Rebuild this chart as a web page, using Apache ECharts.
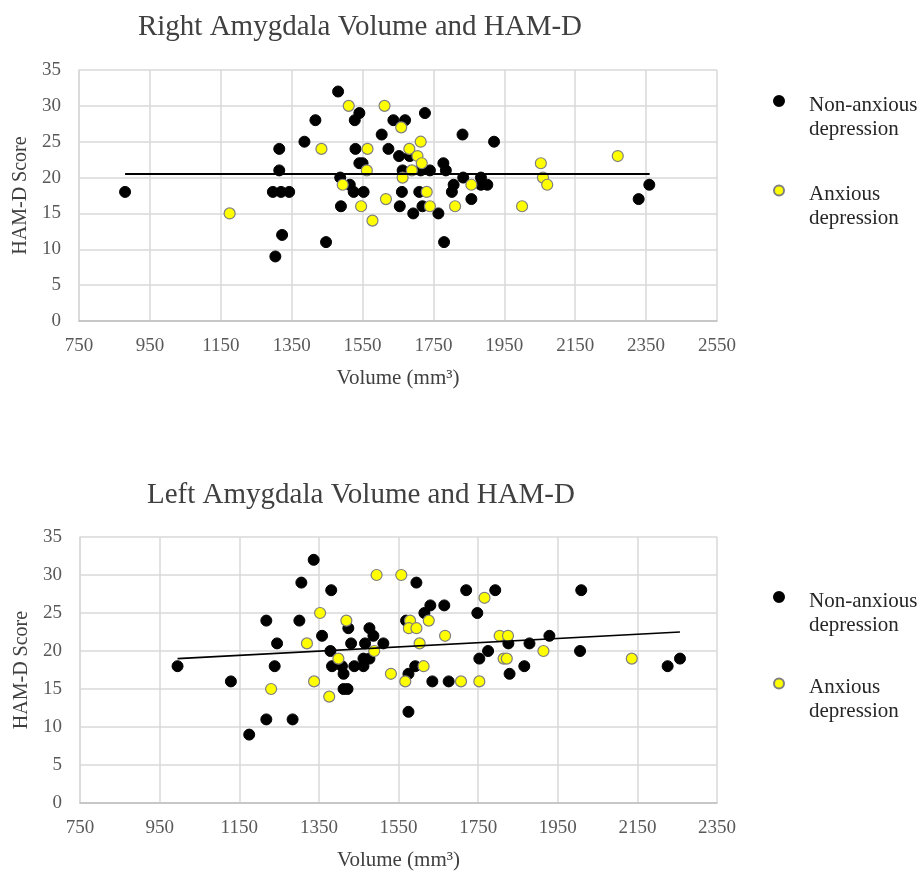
<!DOCTYPE html>
<html>
<head>
<meta charset="utf-8">
<title>Amygdala Volume and HAM-D</title>
<script src="https://cdn.jsdelivr.net/npm/echarts@6/dist/echarts.min.js"></script>
<style>
  html, body { margin: 0; padding: 0; background: #fff; }
  #container { width: 923px; height: 872px; }
</style>
</head>
<body>
<div id="container"></div>
<script>
// right amygdala: [volume mm3, HAM-D score]
var rightNonAnxious = [
  [880, 18], [1297, 18], [1315, 24], [1315, 21], [1320, 18], [1343, 18], [1323, 12], [1304, 9],
  [1386, 25], [1417, 28], [1447, 11], [1481, 32], [1541, 29], [1528, 28], [1530, 24], [1541, 22],
  [1550, 22], [1487, 20], [1514, 19], [1525, 18], [1553, 18], [1489, 16], [1604, 26], [1623, 24],
  [1637, 28], [1670, 28], [1653, 23], [1683, 23], [1663, 21], [1661, 18], [1655, 16], [1693, 15],
  [1726, 29], [1832, 26], [1921, 25], [1778, 22], [1785, 21], [1714, 21], [1740, 21], [1834, 20],
  [1884, 20], [1807, 19], [1884, 19], [1902, 19], [1802, 18], [1710, 18], [1857, 17], [1719, 16],
  [1764, 15], [1780, 11], [2359, 19], [2329, 17]
];
var rightAnxious = [
  [1175, 15], [1434, 24], [1511, 30], [1612, 30], [1659, 27], [1494, 19], [1564, 24], [1562, 21],
  [1546, 16], [1578, 14], [1616, 17], [1682, 24], [1663, 20], [1689, 21], [1705, 23], [1714, 25],
  [1717, 22], [1731, 18], [1740, 16], [1811, 16], [1857, 19], [2053, 22], [2059, 20], [2071, 19],
  [2000, 16], [2270, 23]
];
var rightTrend = [[880, 20.5], [2360, 20.5]];

// left amygdala
var leftNonAnxious = [
  [995, 18], [1129, 16], [1175, 9], [1218, 11], [1284, 11], [1218, 24], [1245, 21], [1239, 18],
  [1301, 24], [1306, 29], [1337, 32], [1381, 28], [1358, 22], [1379, 20], [1383, 18], [1408, 18],
  [1412, 17], [1412, 15], [1422, 15], [1424, 23], [1431, 21], [1439, 18], [1462, 18], [1462, 19],
  [1477, 19], [1466, 21], [1477, 23], [1487, 22], [1512, 21], [1595, 29], [1575, 12], [1575, 17],
  [1592, 18], [1569, 24], [1615, 25], [1630, 26], [1665, 26], [1720, 28], [1793, 28], [1748, 25],
  [1826, 21], [1879, 21], [1929, 22], [1775, 20], [1753, 19], [2009, 28], [2006, 20], [1866, 18],
  [1829, 17], [1635, 16], [1676, 16], [2226, 18], [2257, 19]
];
var leftAnxious = [
  [1230, 15], [1320, 21], [1353, 25], [1338, 16], [1376, 14], [1419, 24], [1399, 19], [1489, 20],
  [1495, 30], [1557, 30], [1531, 17], [1567, 16], [1579, 24], [1576, 23], [1595, 23], [1603, 21],
  [1626, 24], [1667, 22], [1766, 27], [1804, 22], [1825, 22], [1914, 20], [1814, 19], [1822, 19],
  [2136, 19], [1613, 18], [1707, 16], [1753, 16]
];
var leftTrend = [[995, 19], [2257, 22.5]];

var rightVolumeRange = [750, 2550];
var leftVolumeRange = [750, 2350];
var scoreRange = [0, 35];

var serif = 'Liberation Serif';
var nameA = 'Non-anxious depression';
var nameB = 'Anxious depression';
// legend labels: two lines, first one level with the dot
var legendLabels = {};
legendLabels[nameA] = '{s| }\n{t|Non-anxious}\n{t|depression}';
legendLabels[nameB] = '{s| }\n{t|Anxious}\n{t|depression}';

function xAxisFor(idx, range) {
  return {
    gridIndex: idx, type: 'value', min: range[0], max: range[1], interval: 200,
    name: 'Volume (mm³)', nameLocation: 'middle', nameGap: 47,
    nameTextStyle: { fontFamily: serif, fontSize: 21, color: '#404040' },
    axisLine: { show: true, lineStyle: { color: '#bfbfbf', width: 1.5 } },
    axisTick: { show: false },
    axisLabel: { fontFamily: serif, fontSize: 19, color: '#595959', margin: 16,
      formatter: function (v) { return String(v); } },
    splitLine: { show: true, lineStyle: { color: '#d9d9d9', width: 1.5 } }
  };
}
function yAxisFor(idx) {
  return {
    gridIndex: idx, type: 'value', min: scoreRange[0], max: scoreRange[1], interval: 5,
    name: 'HAM-D Score', nameLocation: 'middle', nameGap: 45, nameRotate: 90,
    nameTextStyle: { fontFamily: serif, fontSize: 20, color: '#404040' },
    axisLine: { show: true, lineStyle: { color: '#d9d9d9', width: 1.5 } },
    axisTick: { show: false },
    axisLabel: { fontFamily: serif, fontSize: 19, color: '#595959', margin: 18 },
    splitLine: { show: true, lineStyle: { color: '#d9d9d9', width: 1.5 } }
  };
}
function legendFor(top, gap) {
  return {
    orient: 'vertical', left: 773, top: top, padding: 0, itemGap: gap,
    itemWidth: 10, itemHeight: 10, icon: 'circle', selectedMode: false,
    data: [nameA, nameB],
    formatter: function (n) { return legendLabels[n]; },
    textStyle: {
      fontFamily: serif, fontSize: 21, color: '#262626', padding: [0, 0, 0, 20],
      rich: {
        s: { fontSize: 10, lineHeight: 32 },
        t: { fontFamily: serif, fontSize: 21, color: '#262626', lineHeight: 24 }
      }
    }
  };
}
var blackStyle = { color: '#000', borderColor: '#000', borderWidth: 1, opacity: 1 };
var yellowStyle = { color: '#ffff00', borderColor: '#7f7f7f', borderWidth: 1.2, opacity: 1 };

var chart = echarts.init(document.getElementById('container'));
var option = {
  animation: false,
  title: [
    { text: 'Right Amygdala Volume and HAM-D', left: 355, top: 8, textAlign: 'center',
      textStyle: { fontFamily: serif, fontSize: 29, fontWeight: 'normal', color: '#404040' } },
    { text: 'Left Amygdala Volume and HAM-D', left: 356, top: 476, textAlign: 'center',
      textStyle: { fontFamily: serif, fontSize: 29, fontWeight: 'normal', color: '#404040' } }
  ],
  legend: [legendFor(72, 22), legendFor(568, 19)],
  grid: [
    { left: 79, top: 70, width: 638, height: 251 },
    { left: 80, top: 537, width: 637, height: 269 }
  ],
  xAxis: [xAxisFor(0, rightVolumeRange), xAxisFor(1, leftVolumeRange)],
  yAxis: [yAxisFor(0), yAxisFor(1)],
  series: [
    { name: nameA, type: 'scatter', xAxisIndex: 0, yAxisIndex: 0, symbolSize: 11, itemStyle: blackStyle, data: rightNonAnxious },
    { name: nameB, type: 'scatter', xAxisIndex: 0, yAxisIndex: 0, symbolSize: 11, itemStyle: yellowStyle, data: rightAnxious },
    { type: 'line', xAxisIndex: 0, yAxisIndex: 0, showSymbol: false, symbol: 'none', z: 5,
      lineStyle: { color: '#000', width: 2 }, data: rightTrend },
    { name: nameA, type: 'scatter', xAxisIndex: 1, yAxisIndex: 1, symbolSize: 11, itemStyle: blackStyle, data: leftNonAnxious },
    { name: nameB, type: 'scatter', xAxisIndex: 1, yAxisIndex: 1, symbolSize: 11, itemStyle: yellowStyle, data: leftAnxious },
    { type: 'line', xAxisIndex: 1, yAxisIndex: 1, showSymbol: false, symbol: 'none', z: 5,
      lineStyle: { color: '#000', width: 1.6 }, data: leftTrend }
  ]
};
chart.setOption(option);
</script>
</body>
</html>
